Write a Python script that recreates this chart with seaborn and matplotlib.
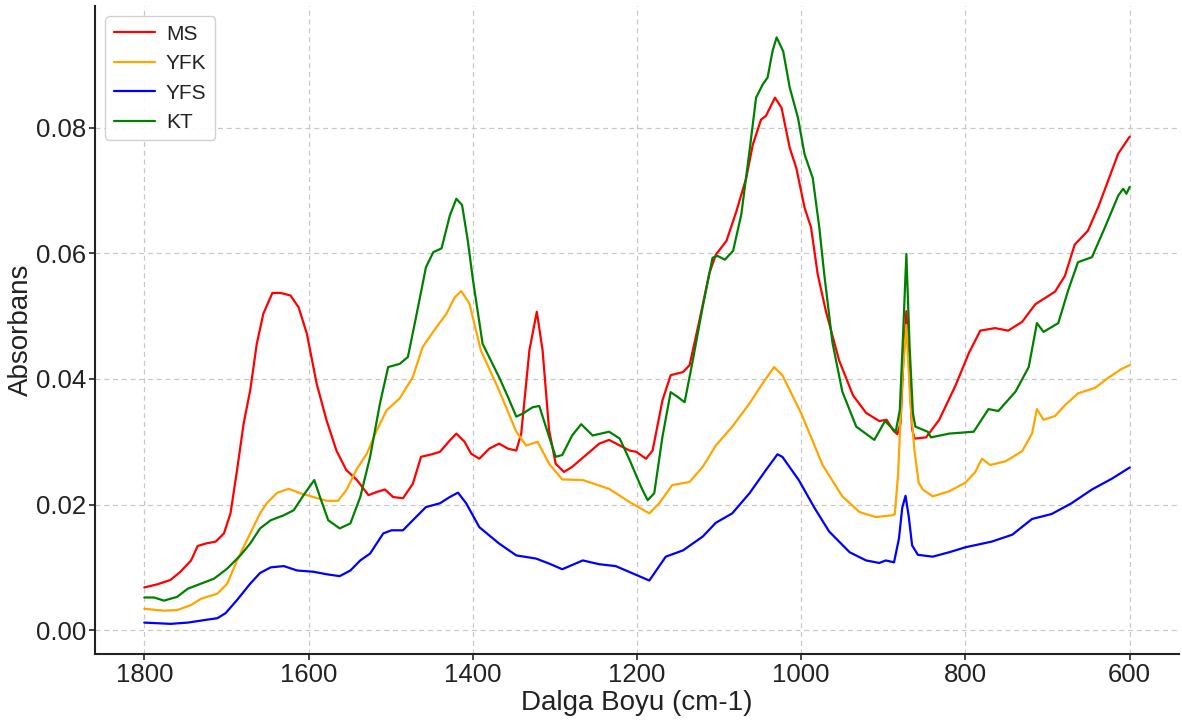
import numpy as np
import pandas as pd
import matplotlib
matplotlib.use("Agg")
import matplotlib.pyplot as plt
import seaborn as sns

# ---------------- data ----------------
ms_wn = [1800, 1784, 1768, 1756, 1743, 1735, 1725, 1713, 1703, 1695, 1687, 1679, 1671, 1663,
         1655, 1644, 1634, 1622, 1612, 1602, 1590, 1578, 1566, 1554, 1541, 1527, 1517, 1507,
         1497, 1485, 1473, 1463, 1450, 1440, 1428, 1420, 1410, 1402, 1392, 1380, 1368, 1357,
         1347, 1341, 1331, 1322, 1315, 1307, 1299, 1289, 1279, 1262, 1246, 1234, 1221, 1209,
         1201, 1189, 1181, 1169, 1159, 1144, 1136, 1124, 1112, 1104, 1091, 1079, 1067, 1059,
         1049, 1043, 1032, 1024, 1014, 1006, 996, 988, 980, 970, 954, 937, 921, 905, 896, 888,
         883, 879, 876, 872, 868, 865, 862, 848, 832, 812, 796, 782, 764, 748, 731, 715, 691,
         679, 667, 651, 638, 622, 614, 600]
ms_abs = [0.0068, 0.0073, 0.0080, 0.0093, 0.0111, 0.0134, 0.0138, 0.0141, 0.0154, 0.0186, 0.0255,
          0.0329, 0.0382, 0.0456, 0.0504, 0.0537, 0.0537, 0.0533, 0.0514, 0.0472, 0.0392, 0.0334,
          0.0286, 0.0255, 0.0239, 0.0215, 0.0220, 0.0224, 0.0212, 0.0210, 0.0233, 0.0276, 0.0280,
          0.0284, 0.0302, 0.0313, 0.0300, 0.0281, 0.0273, 0.0289, 0.0297, 0.0289, 0.0286, 0.0313,
          0.0446, 0.0507, 0.0446, 0.0318, 0.0265, 0.0252, 0.0260, 0.0279, 0.0297, 0.0303, 0.0294,
          0.0286, 0.0284, 0.0273, 0.0286, 0.0366, 0.0406, 0.0411, 0.0422, 0.0493, 0.0568, 0.0598,
          0.0620, 0.0667, 0.0720, 0.0773, 0.0813, 0.0819, 0.0848, 0.0832, 0.0768, 0.0736, 0.0673,
          0.0641, 0.0567, 0.0508, 0.0430, 0.0374, 0.0346, 0.0333, 0.0335, 0.0318, 0.0312, 0.0330,
          0.0420, 0.0508, 0.0400, 0.0320, 0.0305, 0.0307, 0.0335, 0.0390, 0.0441, 0.0477, 0.0481,
          0.0477, 0.0491, 0.0519, 0.0539, 0.0564, 0.0614, 0.0636, 0.0675, 0.0731, 0.0759, 0.0786]

yfk_wn = [1800, 1776, 1760, 1743, 1731, 1711, 1699, 1687, 1671, 1659, 1651, 1638, 1624, 1610,
          1594, 1578, 1564, 1554, 1541, 1529, 1517, 1505, 1489, 1473, 1461, 1444, 1432, 1422,
          1414, 1404, 1390, 1368, 1347, 1335, 1321, 1307, 1291, 1266, 1234, 1209, 1185, 1173,
          1157, 1136, 1120, 1104, 1084, 1063, 1047, 1033, 1023, 1000, 974, 950, 929, 909, 889,
          886, 882, 877, 872, 867, 862, 857, 852, 840, 820, 800, 788, 780, 770, 751, 731, 719,
          713, 705, 691, 679, 663, 642, 626, 610, 600]
yfk_abs = [0.0034, 0.0031, 0.0032, 0.0040, 0.0050, 0.0058, 0.0074, 0.0111, 0.0154, 0.0186, 0.0202,
           0.0219, 0.0225, 0.0218, 0.0212, 0.0206, 0.0206, 0.0223, 0.0257, 0.0281, 0.0318, 0.0350,
           0.0369, 0.0403, 0.0451, 0.0483, 0.0504, 0.0530, 0.0540, 0.0520, 0.0445, 0.0382, 0.0316,
           0.0294, 0.0300, 0.0265, 0.0240, 0.0239, 0.0225, 0.0204, 0.0186, 0.0202, 0.0231, 0.0236,
           0.0260, 0.0294, 0.0324, 0.0361, 0.0393, 0.0419, 0.0406, 0.0345, 0.0263, 0.0213, 0.0188,
           0.0180, 0.0183, 0.0185, 0.0250, 0.0400, 0.0486, 0.0360, 0.0285, 0.0235, 0.0224, 0.0213,
           0.0221, 0.0235, 0.0252, 0.0273, 0.0263, 0.0269, 0.0285, 0.0313, 0.0352, 0.0335, 0.0341,
           0.0358, 0.0377, 0.0386, 0.0402, 0.0416, 0.0422]

yfs_wn = [1800, 1784, 1768, 1747, 1727, 1711, 1701, 1687, 1671, 1659, 1646, 1630, 1614, 1594,
          1578, 1562, 1549, 1537, 1525, 1509, 1499, 1485, 1473, 1457, 1440, 1428, 1418, 1408,
          1392, 1368, 1347, 1323, 1307, 1291, 1266, 1246, 1226, 1201, 1185, 1165, 1144, 1120,
          1104, 1084, 1063, 1043, 1029, 1023, 1003, 984, 966, 941, 921, 905, 897, 887, 881, 877,
          873, 869, 865, 858, 852, 840, 820, 800, 768, 743, 719, 695, 671, 646, 622, 600]
yfs_abs = [0.0012, 0.0011, 0.0010, 0.0012, 0.0016, 0.0019, 0.0027, 0.0048, 0.0074, 0.0091, 0.0100,
           0.0102, 0.0095, 0.0093, 0.0089, 0.0086, 0.0095, 0.0111, 0.0122, 0.0154, 0.0159, 0.0159,
           0.0175, 0.0196, 0.0202, 0.0212, 0.0219, 0.0202, 0.0164, 0.0138, 0.0119, 0.0114, 0.0106,
           0.0097, 0.0111, 0.0105, 0.0102, 0.0088, 0.0079, 0.0117, 0.0127, 0.0149, 0.0171, 0.0186,
           0.0218, 0.0255, 0.0280, 0.0276, 0.0239, 0.0195, 0.0157, 0.0124, 0.0111, 0.0107, 0.0111,
           0.0108, 0.0146, 0.0195, 0.0214, 0.0180, 0.0135, 0.0120, 0.0119, 0.0117, 0.0124, 0.0132,
           0.0141, 0.0152, 0.0177, 0.0185, 0.0202, 0.0224, 0.0241, 0.0259]

kt_wn = [1800, 1788, 1776, 1760, 1747, 1731, 1715, 1699, 1683, 1671, 1659, 1646, 1630, 1618,
         1606, 1593, 1586, 1576, 1562, 1549, 1537, 1525, 1513, 1503, 1489, 1479, 1469, 1457,
         1448, 1438, 1428, 1420, 1413, 1406, 1400, 1396, 1388, 1368, 1357, 1347, 1339, 1327,
         1319, 1311, 1299, 1291, 1279, 1268, 1254, 1234, 1221, 1209, 1195, 1187, 1179, 1169,
         1159, 1150, 1142, 1132, 1120, 1108, 1102, 1093, 1083, 1073, 1063, 1055, 1047, 1041,
         1035, 1030, 1022, 1014, 1004, 996, 986, 978, 972, 962, 950, 933, 911, 898, 885, 880,
         876, 872, 868, 864, 861, 846, 842, 820, 790, 772, 760, 739, 723, 713, 705, 687, 675,
         663, 646, 630, 614, 608, 604, 600]
kt_abs = [0.0052, 0.0052, 0.0047, 0.0053, 0.0066, 0.0074, 0.0082, 0.0098, 0.0119, 0.0138, 0.0162,
          0.0175, 0.0183, 0.0191, 0.0215, 0.0239, 0.0212, 0.0175, 0.0162, 0.0170, 0.0212, 0.0276,
          0.0361, 0.0419, 0.0424, 0.0435, 0.0499, 0.0578, 0.0602, 0.0608, 0.0660, 0.0687, 0.0677,
          0.0620, 0.0560, 0.0525, 0.0456, 0.0403, 0.0371, 0.0340, 0.0345, 0.0355, 0.0357, 0.0324,
          0.0276, 0.0279, 0.0310, 0.0328, 0.0310, 0.0316, 0.0305, 0.0271, 0.0228, 0.0207, 0.0218,
          0.0308, 0.0379, 0.0371, 0.0363, 0.0430, 0.0515, 0.0593, 0.0596, 0.0590, 0.0604, 0.0662,
          0.0763, 0.0848, 0.0869, 0.0880, 0.0922, 0.0944, 0.0922, 0.0864, 0.0816, 0.0758, 0.0720,
          0.0641, 0.0567, 0.0458, 0.0380, 0.0324, 0.0303, 0.0333, 0.0316, 0.0350, 0.0470, 0.0599,
          0.0450, 0.0345, 0.0324, 0.0316, 0.0307, 0.0313, 0.0316, 0.0352, 0.0349, 0.0380, 0.0419,
          0.0489, 0.0475, 0.0489, 0.0541, 0.0586, 0.0594, 0.0642, 0.0692, 0.0703, 0.0695, 0.0706]

series_names = ["MS", "YFK", "YFS", "KT"]
series_colors = ["red", "orange", "blue", "green"]
x_ticks = [1800, 1600, 1400, 1200, 1000, 800, 600]
x_label = "Dalga Boyu (cm-1)"
y_label = "Absorbans"

# ---------------- build long-form table ----------------
frames = []
for name, wn, ab in zip(series_names,
                        [ms_wn, yfk_wn, yfs_wn, kt_wn],
                        [ms_abs, yfk_abs, yfs_abs, kt_abs]):
    frames.append(pd.DataFrame({"wn": wn, "abs": ab, "sample": name}))
df = pd.concat(frames, ignore_index=True)

# ---------------- style ----------------
sns.set_style("whitegrid", {
    "grid.linestyle": (0, (4, 3)),
    "grid.color": "#c8c8c8",
    "axes.edgecolor": "#222222",
    "xtick.bottom": True,
    "ytick.left": True,
    "xtick.color": "#222222",
    "ytick.color": "#222222",
})
plt.rcParams["font.family"] = ["Liberation Sans", "DejaVu Sans"]
plt.rcParams["text.color"] = "#222222"
plt.rcParams["axes.labelcolor"] = "#222222"

fig = plt.figure(figsize=(11.82, 7.2), dpi=100)
ax = fig.add_axes([95 / 1182, 66 / 720, (1179 - 95) / 1182, (654 - 6) / 720])

sns.lineplot(data=df, x="wn", y="abs", hue="sample", hue_order=series_names,
             palette=dict(zip(series_names, series_colors)),
             estimator=None, sort=False, linewidth=1.6, ax=ax)

ax.set_xlim(1860, 540)
ax.set_ylim(-0.0038, 0.0994)
ax.set_xticks(x_ticks)
ax.set_yticks([0.0, 0.02, 0.04, 0.06, 0.08])
ax.yaxis.set_major_formatter(matplotlib.ticker.FormatStrFormatter("%.2f"))
ax.tick_params(axis="both", labelsize=18.5, length=4.5, width=1.2, direction="out", pad=2)
ax.set_xlabel(x_label, fontsize=20, labelpad=2)
ax.set_ylabel(y_label, fontsize=20, labelpad=1)
ax.grid(True, linewidth=0.9)

for side in ["top", "right"]:
    ax.spines[side].set_visible(False)
for side in ["left", "bottom"]:
    ax.spines[side].set_linewidth(1.5)

handles, labels = ax.get_legend_handles_labels()
leg = ax.legend(handles, labels, loc="upper left", fontsize=15, frameon=True,
                fancybox=True, framealpha=0.9, edgecolor="#cccccc", title=None,
                handlelength=2.0, handletextpad=0.5, labelspacing=0.5)
for h in leg.get_lines():
    h.set_linewidth(1.6)

fig.savefig("out.png", dpi=100)
